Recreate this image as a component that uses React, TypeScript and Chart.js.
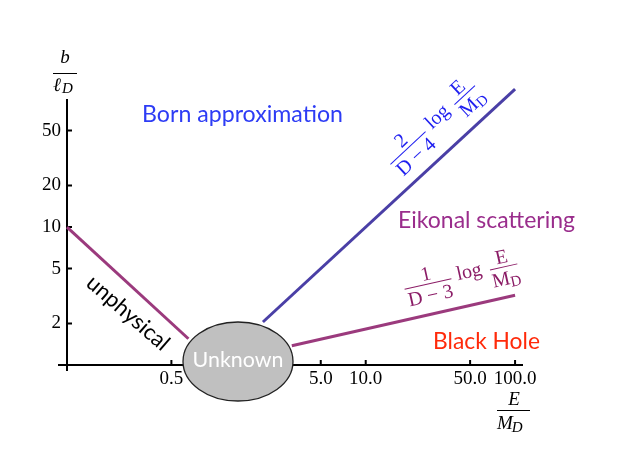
import React, { useEffect, useRef } from "react";
import { Chart, registerables } from "chart.js";

Chart.register(...registerables);

// ---- data ----
const xTicks = [0.5, 5, 10, 50, 100];
const xTickLabels = ["0.5", "5.0", "10.0", "50.0", "100.0"];
const yTicks = [2, 5, 10, 20, 50];
const yTickLabels = ["2", "5", "10", "20", "50"];

const unphysicalE = [0.1, 0.65];
const unphysicalB = [10, 1.55];
const bornE = [2.05, 100];
const bornB = [2.05, 100];
const holeE = [3.2, 100];
const holeB = [1.38, 3.2];

const xMin = 0.1;
const xMax = 113;
const yMin = 1;
const yMax = 84.7;

const SANS = "Lato";
const SERIF = "Liberation Serif";

function fitFont(ctx: CanvasRenderingContext2D, text: string, family: string, target: number) {
  ctx.font = `20px "${family}"`;
  const w = ctx.measureText(text).width;
  const size = (20 * target) / w;
  ctx.font = `${size}px "${family}"`;
}

function drawFormula(
  ctx: CanvasRenderingContext2D,
  ax: number,
  ay: number,
  angleDeg: number,
  color: string,
  num: string,
  den: string
) {
  ctx.save();
  ctx.translate(ax, ay);
  ctx.rotate((angleDeg * Math.PI) / 180);
  ctx.fillStyle = color;
  ctx.strokeStyle = color;
  ctx.lineWidth = 1;
  ctx.textBaseline = "alphabetic";
  ctx.font = `20px "${SERIF}"`;
  const w1 = 48;
  ctx.beginPath();
  ctx.moveTo(-w1 / 2, 0);
  ctx.lineTo(w1 / 2, 0);
  ctx.stroke();
  ctx.textAlign = "center";
  ctx.fillText(num, 0, -4);
  ctx.fillText(den, 0, 18);
  let x = w1 / 2 + 6;
  ctx.textAlign = "left";
  ctx.fillText("log", x, 3);
  x += ctx.measureText("log").width + 8;
  const w2 = 28;
  ctx.beginPath();
  ctx.moveTo(x, 0);
  ctx.lineTo(x + w2, 0);
  ctx.stroke();
  ctx.textAlign = "center";
  ctx.fillText("E", x + w2 / 2, -4);
  const mw = ctx.measureText("M").width;
  ctx.font = `15px "${SERIF}"`;
  const dw = ctx.measureText("D").width;
  const start = x + w2 / 2 - (mw + dw) / 2;
  ctx.textAlign = "left";
  ctx.font = `20px "${SERIF}"`;
  ctx.fillText("M", start, 18);
  ctx.font = `15px "${SERIF}"`;
  ctx.fillText("D", start + mw, 21);
  ctx.restore();
}

const decor = {
  id: "decor",
  beforeDatasetsDraw(chart: any) {
    const ctx: CanvasRenderingContext2D = chart.ctx;
    const { left, right, top, bottom } = chart.chartArea;
    const xs = chart.scales.x;
    const ys = chart.scales.y;
    ctx.save();
    ctx.strokeStyle = "#000";
    ctx.lineWidth = 2;
    ctx.beginPath();
    ctx.moveTo(left, top);
    ctx.lineTo(left, bottom + 6);
    ctx.moveTo(left - 9, bottom);
    ctx.lineTo(right, bottom);
    for (const v of yTicks) {
      const y = ys.getPixelForValue(v);
      ctx.moveTo(left, y);
      ctx.lineTo(left + 5, y);
    }
    for (const v of xTicks) {
      const x = xs.getPixelForValue(v);
      ctx.moveTo(x, bottom);
      ctx.lineTo(x, bottom - 5);
    }
    ctx.stroke();

    // axis titles
    ctx.fillStyle = "#000";
    ctx.lineWidth = 1;
    ctx.textBaseline = "alphabetic";
    ctx.textAlign = "center";
    ctx.font = `italic 19px "${SERIF}"`;
    ctx.fillText("b", 65, 63);
    ctx.beginPath();
    ctx.moveTo(53, 73.5);
    ctx.lineTo(77, 73.5);
    ctx.stroke();
    ctx.textAlign = "left";
    ctx.fillText("ℓ", 53, 91);
    const lw = ctx.measureText("ℓ").width;
    ctx.font = `italic 15px "${SERIF}"`;
    ctx.fillText("D", 53 + lw + 1, 93);

    ctx.textAlign = "center";
    ctx.font = `italic 19px "${SERIF}"`;
    ctx.fillText("E", 514, 405);
    ctx.beginPath();
    ctx.moveTo(497, 410.5);
    ctx.lineTo(530, 410.5);
    ctx.stroke();
    ctx.textAlign = "left";
    ctx.fillText("M", 497, 429);
    const mw = ctx.measureText("M").width;
    ctx.font = `italic 15px "${SERIF}"`;
    ctx.fillText("D", 497 + mw - 1, 432);
    ctx.restore();
  },
  afterDatasetsDraw(chart: any) {
    const ctx: CanvasRenderingContext2D = chart.ctx;
    ctx.save();
    // Unknown region
    ctx.beginPath();
    ctx.ellipse(238, 361.5, 55, 39.5, 0, 0, Math.PI * 2);
    ctx.fillStyle = "#c0c0c0";
    ctx.fill();
    ctx.strokeStyle = "#222";
    ctx.lineWidth = 1.3;
    ctx.stroke();
    ctx.fillStyle = "#ffffff";
    ctx.textAlign = "center";
    ctx.textBaseline = "alphabetic";
    fitFont(ctx, "Unknown", SANS, 91);
    ctx.fillText("Unknown", 238, 367);

    fitFont(ctx, "Born approximation", SANS, 201);
    ctx.fillStyle = "#2d3cf5";
    ctx.fillText("Born approximation", 242.5, 122);

    fitFont(ctx, "Eikonal scattering", SANS, 177);
    ctx.fillStyle = "#9a2d8c";
    ctx.fillText("Eikonal scattering", 486.5, 228);

    fitFont(ctx, "Black Hole", SANS, 107);
    ctx.fillStyle = "#ff2a0a";
    ctx.fillText("Black Hole", 486.5, 349);

    ctx.save();
    ctx.translate(128, 313);
    ctx.rotate((41 * Math.PI) / 180);
    fitFont(ctx, "unphysical", SANS, 102);
    ctx.fillStyle = "#000";
    ctx.textBaseline = "middle";
    ctx.fillText("unphysical", 0, 0);
    ctx.restore();

    drawFormula(ctx, 408, 148, -43, "#1f1ff0", "2", "D − 4");
    drawFormula(ctx, 428, 284, -12.7, "#8b1c66", "1", "D − 3");
    ctx.restore();
  },
};

function toPoints(xs: number[], ys: number[]) {
  return xs.map((x, i) => ({ x, y: ys[i] }));
}

export default function App() {
  const ref = useRef<HTMLCanvasElement | null>(null);
  useEffect(() => {
    if (!ref.current) return;
    const chart = new Chart(ref.current, {
      type: "line",
      data: {
        datasets: [
          {
            data: toPoints(unphysicalE, unphysicalB),
            borderColor: "#9b3a7d",
            borderWidth: 3,
            pointRadius: 0,
            tension: 0,
            clip: false as any,
          },
          {
            data: toPoints(bornE, bornB),
            borderColor: "#4a3fa6",
            borderWidth: 3,
            pointRadius: 0,
            tension: 0,
            clip: false as any,
          },
          {
            data: toPoints(holeE, holeB),
            borderColor: "#9b3a7d",
            borderWidth: 3,
            pointRadius: 0,
            tension: 0,
            clip: false as any,
          },
        ],
      },
      options: {
        responsive: false,
        animation: false,
        devicePixelRatio: 1,
        layout: { padding: { left: 0, right: 100, top: 99, bottom: 0 } },
        plugins: { legend: { display: false }, tooltip: { enabled: false } },
        scales: {
          x: {
            type: "logarithmic",
            min: xMin,
            max: xMax,
            afterBuildTicks: (s: any) => {
              s.ticks = xTicks.map((v) => ({ value: v }));
            },
            afterFit: (s: any) => {
              s.height = 102;
            },
            ticks: {
              callback: (_v: any, i: number) => xTickLabels[i],
              font: { family: SERIF, size: 19 },
              color: "#000",
              padding: 3,
              maxRotation: 0,
              autoSkip: false,
            },
            grid: { display: false, drawTicks: false },
            border: { display: false },
          },
          y: {
            type: "logarithmic",
            min: yMin,
            max: yMax,
            afterBuildTicks: (s: any) => {
              s.ticks = yTicks.map((v) => ({ value: v }));
            },
            afterFit: (s: any) => {
              s.width = 67;
            },
            ticks: {
              callback: (_v: any, i: number) => yTickLabels[i],
              font: { family: SERIF, size: 19 },
              color: "#000",
              padding: 6,
              autoSkip: false,
            },
            grid: { display: false, drawTicks: false },
            border: { display: false },
          },
        },
      } as any,
      plugins: [decor],
    });
    return () => chart.destroy();
  }, []);
  return (
    <div style={{ position: "fixed", left: 0, top: 0, width: 623, height: 467, background: "#fff" }}>
      <canvas ref={ref} width={623} height={467} style={{ display: "block" }} />
    </div>
  );
}
